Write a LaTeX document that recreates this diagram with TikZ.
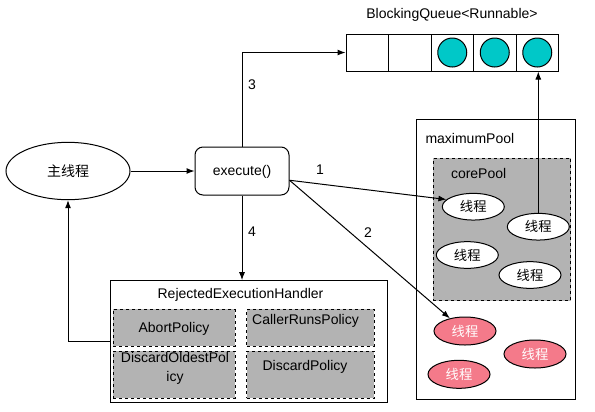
\documentclass[tikz,border=0pt]{standalone}
\usepackage{fontspec}
\setmainfont{Liberation Sans}
\newfontfamily\cjk{Noto Sans CJK SC}
\usetikzlibrary{arrows.meta,shapes.geometric,fit}
\definecolor{qcyan}{RGB}{0,200,200}
\definecolor{pgray}{RGB}{179,179,179}
\definecolor{tred}{RGB}{244,122,138}
\begin{document}
\begin{tikzpicture}[x=0.75pt,y=-0.75pt,line width=0.75pt,
  font=\fontsize{10.5}{12.6}\selectfont,
  arr/.style={-{Latex[length=6pt,width=4.5pt]}},
  box/.style={draw, inner sep=0pt},
  dbox/.style={draw, fill=pgray, dash pattern=on 2.25pt off 2.25pt, inner sep=0pt},
  th/.style={ellipse, draw, fill=white, minimum width=46.5pt, minimum height=20pt, inner sep=0pt, font=\cjk\fontsize{10}{12}\selectfont},
  rth/.style={th, fill=tred, text=white, minimum height=21pt},
  cell/.style={draw, inner sep=0pt},
  ball/.style={circle, draw, fill=qcyan, minimum size=21.75pt, inner sep=0pt},
  num/.style={inner sep=0pt}
]
\useasboundingbox (0,0) rectangle (595,411);
% main thread
\node[ellipse, draw, minimum width=93pt, minimum height=43pt, inner sep=0pt, font=\cjk\fontsize{10.5}{12.6}\selectfont] (main) at (68,171) {主线程};
% execute
\node[draw, rounded corners=6pt, inner sep=0pt, fit={(195,147)(289,195)}] (exec) {};
\node[inner sep=0pt] (exect) at (242,171.5) {execute()};
% queue
\node[anchor=center] (qlabel) at (452,15) {BlockingQueue<Runnable>};
\node[cell, fit={(346,34)(388.5,71)}] (q1) {};
\node[cell, fit={(388.5,34)(431,71)}] (q2) {};
\node[cell, fit={(431,34)(473.5,71)}] (q3) {};
\node[cell, fit={(473.5,34)(516,71)}] (q4) {};
\node[cell, fit={(516,34)(558.5,71)}] (q5) {};
\node[ball] (b3) at (q3) {};
\node[ball] (b4) at (q4) {};
\node[ball] (b5) at (q5) {};
% pools
\node[box, fit={(416,119.5)(575.7,399.3)}] (maxp) {};
\node[anchor=west, inner sep=0pt] (maxl) at (425,138) {maximumPool};
\node[dbox, fit={(433.3,158.3)(570.7,300.7)}] (core) {};
\node[anchor=west, inner sep=0pt] (corel) at (450.5,173) {corePool};
\node[th] (t1) at (473.3,206.7) {线程};
\node[th] (t2) at (538.3,226.7) {线程};
\node[th] (t3) at (467.3,255) {线程};
\node[th] (t4) at (530,275) {线程};
\node[rth] (r1) at (465,331) {线程};
\node[rth] (r2) at (535,354) {线程};
\node[rth] (r3) at (459,374.3) {线程};
% handler
\node[box, fit={(110.7,280.7)(387.3,402.7)}] (handler) {};
\node (hl) at (240.5,295) {RejectedExecutionHandler};
\node[dbox, fit={(113.3,309.3)(235,346)}] (p1) {};
\node[inner sep=0pt] (p1t) at (174,329.3) {AbortPolicy};
\node[dbox, fit={(246.7,309.3)(374,346)}] (p2) {};
\node[inner sep=0pt] (p2t) at (305.5,320.7) {CallerRunsPolicy};
\node[dbox, fit={(113.3,351)(235,398.3)}] (p3) {};
\node[inner sep=0pt, align=center, font=\fontsize{10.5}{14.25}\selectfont] (p3t) at (175,368.8) {DiscardOldestPol\\icy};
\node[dbox, fit={(246.7,351)(374,398.3)}] (p4) {};
\node[inner sep=0pt] (p4t) at (305,367.3) {DiscardPolicy};
% connectors
\draw[arr] (main.east) -- (main.east -| exec.west);
\draw[arr] (exec.north) |- (q1.west);
\draw[arr] (exec.south) -- (exec.south |- handler.north);
\draw[arr] (exec.-11) -- (t1.165);
\draw[arr] (exec.-11) -- (r1.140);
\draw[arr] (t2.north) -- (t2.north |- q5.south);
\draw[arr] (handler.west) -| (main.south);
% labels
\node[num] (n1) at (320,170) {1};
\node[num] (n2) at (368,233) {2};
\node[num] (n3) at (252,85) {3};
\node[num] (n4) at (252,232) {4};
\end{tikzpicture}
\end{document}
